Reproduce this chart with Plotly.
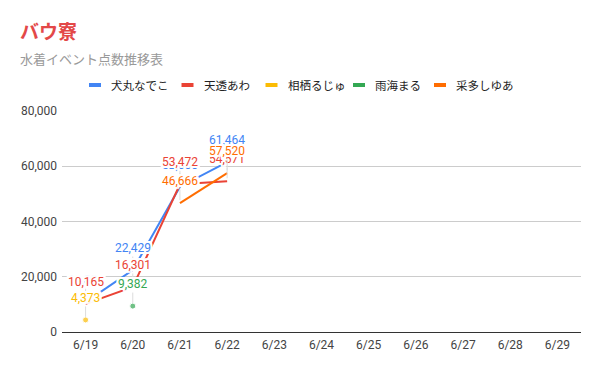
import plotly.graph_objects as go

# ---- data ----
categories = ["6/19", "6/20", "6/21", "6/22", "6/23", "6/24", "6/25", "6/26", "6/27", "6/28", "6/29"]
series_names = ["犬丸なでこ", "天透あわ", "相栖るじゅ", "雨海まる", "采多しゆあ"]
inumaru = [10800, 22429, 52600, 61464, None, None, None, None, None, None, None]
amasuke = [10165, 16301, 53472, 54571, None, None, None, None, None, None, None]
aisu = [4373, None, None, None, None, None, None, None, None, None, None]
amami = [None, 9382, None, None, None, None, None, None, None, None, None]
saita = [None, None, 46666, 57520, None, None, None, None, None, None, None]
series_values = [inumaru, amasuke, aisu, amami, saita]
colors = ["#4285F4", "#EA4335", "#FBBC04", "#34A853", "#FF6D01"]
y_ticks = [0, 20000, 40000, 60000, 80000]

title_text = "バウ寮"
subtitle_text = "水着イベント点数推移表"

# ---- layout geometry ----
W, H = 600, 371
ML, MR, MT, MB = 62, 19, 111, 39
PW, PH = W - ML - MR, H - MT - MB


def px2x(px):
    return (px - ML) / PW


def py2y(py):
    return (H - MB - py) / PH


FONT = "Roboto, 'Noto Sans CJK JP', sans-serif"
HALO = ", ".join(
    f"{dx}px {dy}px 0px white"
    for dx, dy in [(2, 0), (-2, 0), (0, 2), (0, -2), (2, 2), (-2, -2), (2, -2), (-2, 2),
                   (1, 2), (2, 1), (-1, 2), (-2, 1), (1, -2), (2, -1), (-1, -2), (-2, -1)]
)

fig = go.Figure()

for name, vals, col in zip(series_names, series_values, colors):
    sizes = []
    for i, v in enumerate(vals):
        prev_v = vals[i - 1] if i > 0 else None
        next_v = vals[i + 1] if i < len(vals) - 1 else None
        isolated = v is not None and prev_v is None and next_v is None
        sizes.append(6 if isolated else 0)
    fig.add_trace(go.Scatter(
        x=categories, y=vals, name=name, mode="lines+markers",
        line=dict(color=col, width=2), marker=dict(color=col, size=sizes),
        connectgaps=False, showlegend=False, hoverinfo="skip",
    ))

annotations = []
# data labels (later series drawn on top)
for name, vals, col in zip(series_names, series_values, colors):
    for cat, v in zip(categories, vals):
        if v is None:
            continue
        annotations.append(dict(
            x=cat, y=v, xref="x", yref="y", text=f"{v:,}",
            showarrow=True, arrowhead=0, arrowwidth=1, arrowcolor="#dcdcdc",
            ax=0, ay=-22, standoff=3, startstandoff=0,
            font=dict(family=FONT, size=12, color=col, shadow=HALO),
        ))

# title / subtitle
annotations.append(dict(
    x=px2x(18), y=py2y(30.5), xref="paper", yref="paper", xanchor="left", yanchor="middle",
    text=f"<b>{title_text}</b>", showarrow=False,
    font=dict(family="'Noto Sans CJK JP', Roboto, sans-serif", size=19, color="#e34848"),
))
annotations.append(dict(
    x=px2x(18), y=py2y(58.5), xref="paper", yref="paper", xanchor="left", yanchor="middle",
    text=subtitle_text, showarrow=False,
    font=dict(family="'Noto Sans CJK JP', Roboto, sans-serif", size=13, color="#999999"),
))

# custom legend
legend_x = [89, 181.5, 265.5, 353, 434]
legend_y = 85
shapes = []
for lx, name, col in zip(legend_x, series_names, colors):
    shapes.append(dict(
        type="line", xref="paper", yref="paper",
        x0=px2x(lx), x1=px2x(lx + 12), y0=py2y(legend_y), y1=py2y(legend_y),
        line=dict(color=col, width=4),
    ))
    annotations.append(dict(
        x=px2x(lx + 20), y=py2y(legend_y), xref="paper", yref="paper",
        xanchor="left", yanchor="middle", text=name, showarrow=False,
        font=dict(family="'Noto Sans CJK JP', Roboto, sans-serif", size=11.5, color="#222222"),
    ))

fig.update_layout(
    width=W, height=H,
    margin=dict(l=ML, r=MR, t=MT, b=MB, pad=0),
    paper_bgcolor="white", plot_bgcolor="white",
    font=dict(family=FONT, size=12, color="#444444"),
    showlegend=False,
    annotations=annotations,
    shapes=shapes,
    xaxis=dict(
        type="category", categoryorder="array", categoryarray=categories,
        range=[-0.5, len(categories) - 0.5],
        showgrid=False, zeroline=False, showline=False, ticks="",
        tickfont=dict(family=FONT, size=12, color="#444444"),
        ticklabelstandoff=4, fixedrange=True,
    ),
    yaxis=dict(
        range=[0, 80000], tickvals=y_ticks, tickformat=",",
        showgrid=True, gridcolor="#cccccc", gridwidth=1,
        zeroline=True, zerolinecolor="#333333", zerolinewidth=1,
        showline=False, ticks="",
        tickfont=dict(family=FONT, size=12, color="#444444"),
        ticklabelstandoff=4, fixedrange=True,
    ),
)

fig.write_html(
    "out.html",
    config={"displayModeBar": False},
    post_script="document.body.style.margin='0px';document.body.style.overflow='hidden';",
)
